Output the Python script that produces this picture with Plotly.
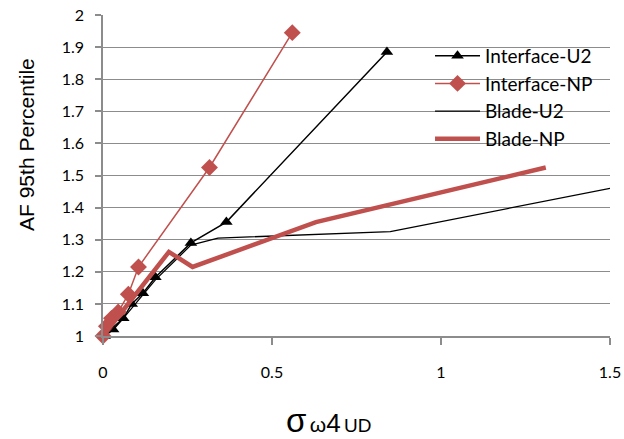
import plotly.graph_objects as go

# Data
iu2_x = [0.005, 0.03, 0.06, 0.085, 0.118, 0.155, 0.26, 0.365, 0.84]
iu2_y = [1.0, 1.02, 1.055, 1.10, 1.133, 1.183, 1.29, 1.355, 1.885]

inp_x = [0.0, 0.01, 0.025, 0.045, 0.075, 0.105, 0.315, 0.56]
inp_y = [1.0, 1.03, 1.055, 1.075, 1.13, 1.215, 1.525, 1.945]

bu2_x = [0.0, 0.06, 0.155, 0.26, 0.34, 0.85, 1.5]
bu2_y = [1.0, 1.055, 1.175, 1.283, 1.305, 1.325, 1.46]

bnp_x = [0.0, 0.1, 0.195, 0.265, 0.63, 1.31]
bnp_y = [1.0, 1.135, 1.262, 1.215, 1.355, 1.525]

xticks = [0, 0.5, 1, 1.5]
xticklabels = ["0", "0.5", "1", "1.5"]
yticks = [1, 1.1, 1.2, 1.3, 1.4, 1.5, 1.6, 1.7, 1.8, 1.9, 2]
yticklabels = ["1", "1.1", "1.2", "1.3", "1.4", "1.5", "1.6", "1.7", "1.8", "1.9", "2"]

RED = "#C0504D"

fig = go.Figure()
fig.add_trace(go.Scatter(x=iu2_x, y=iu2_y, name="Interface-U2", mode="lines+markers",
                         line=dict(color="black", width=1.5),
                         marker=dict(symbol="triangle-up", size=11, color="black"),
                         cliponaxis=False, legendgroup="a"))
fig.add_trace(go.Scatter(x=inp_x, y=inp_y, name="Interface-NP", mode="lines+markers",
                         line=dict(color=RED, width=1.5),
                         marker=dict(symbol="diamond", size=13, color=RED),
                         cliponaxis=False, legendgroup="b"))
fig.add_trace(go.Scatter(x=bu2_x, y=bu2_y, name="Blade-U2", mode="lines",
                         line=dict(color="black", width=1.3),
                         cliponaxis=False, legendgroup="c"))
fig.add_trace(go.Scatter(x=bnp_x, y=bnp_y, name="Blade-NP", mode="lines",
                         line=dict(color=RED, width=4.5),
                         cliponaxis=False, legendgroup="d"))

fig.update_layout(
    width=624, height=439,
    margin=dict(l=103, r=14, t=15, b=103, autoexpand=False),
    paper_bgcolor="white", plot_bgcolor="white",
    font=dict(family="Lato, sans-serif", color="black"),
    showlegend=True,
    legend=dict(x=0.645, y=0.932, xanchor="left", yanchor="top",
                font=dict(size=19, family="Lato, sans-serif"),
                bgcolor="rgba(255,255,255,0)", tracegroupgap=0, itemwidth=45),
    xaxis=dict(range=[0, 1.5], tickvals=xticks, ticktext=xticklabels,
               showgrid=False, zeroline=False, showline=True, automargin=False,
               linecolor="#8c8c8c", linewidth=1.5,
               ticks="outside", ticklen=7, tickcolor="#8c8c8c", tickwidth=1.5,
               tickfont=dict(size=16), ticklabelstandoff=14),
    yaxis=dict(range=[1, 2], tickvals=yticks, ticktext=yticklabels,
               showgrid=True, gridcolor="#8c8c8c", gridwidth=1.4, automargin=False,
               zeroline=False, showline=True,
               linecolor="#8c8c8c", linewidth=1.5,
               ticks="outside", ticklen=6, tickcolor="#8c8c8c", tickwidth=1.5,
               tickfont=dict(size=16), ticklabelstandoff=8),
)

fig.add_annotation(xref="paper", yref="paper", x=-0.152, y=0.598,
                   text="AF 95th Percentile", textangle=-90, showarrow=False,
                   font=dict(size=21, family="Liberation Sans, Arial, sans-serif"),
                   xanchor="center", yanchor="middle")

fig.add_annotation(xref="paper", yref="paper", x=0.445, y=-0.262,
                   text='<span style="font-size:33px">σ</span> <span style="font-size:21px">ω</span><span style="font-size:26px">4</span> <span style="font-size:19px">UD</span>',
                   showarrow=False,
                   font=dict(family="Liberation Sans, Arial, sans-serif"),
                   xanchor="center", yanchor="middle")

fig.write_html("out.html", config={"displayModeBar": False},
               post_script="document.body.style.margin='0';document.body.style.overflow='hidden';")
